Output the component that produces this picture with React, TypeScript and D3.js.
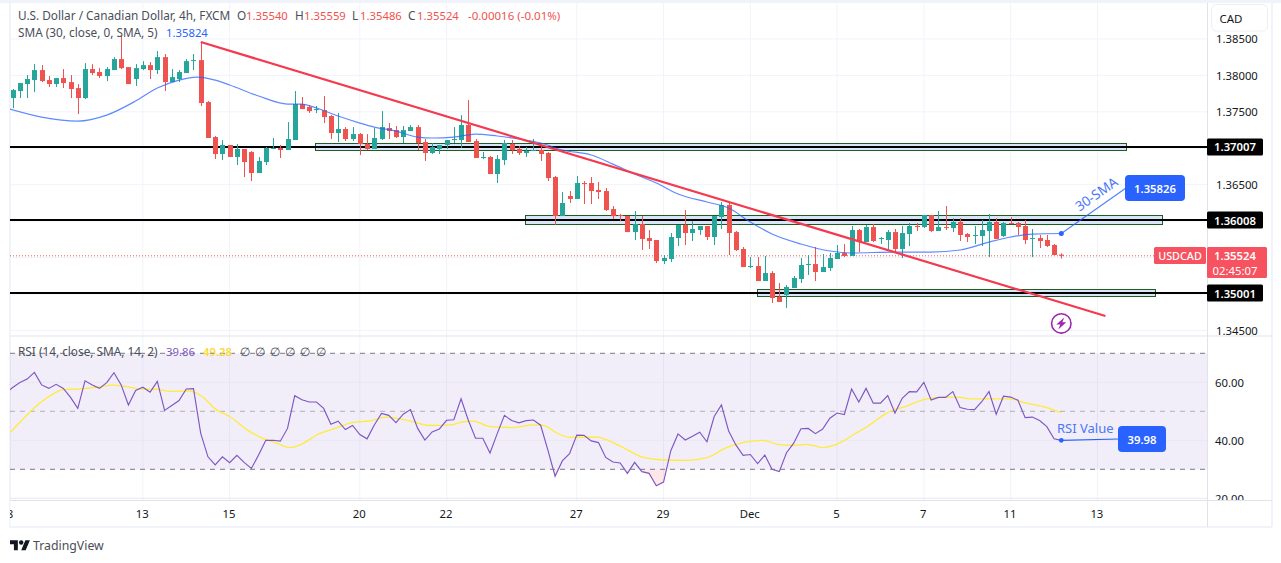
import React from "react";
import * as d3 from "d3";

// candles: open, high, low, close
const candles: number[][] = [
[1.37689,1.37813,1.37551,1.37799],[1.37785,1.37895,1.37689,1.37895],[1.37881,1.38005,1.37689,1.37950],[1.37936,1.38155,1.37771,1.38073],
[1.38073,1.38141,1.37908,1.37922],[1.37936,1.37991,1.37840,1.37881],[1.37881,1.37963,1.37840,1.37963],[1.37963,1.38087,1.37826,1.37895],
[1.37908,1.38005,1.37689,1.37813],[1.37826,1.37881,1.37469,1.37689],[1.37689,1.38169,1.37675,1.38087],[1.38087,1.38155,1.38005,1.38032],
[1.38046,1.38100,1.37963,1.37991],[1.37991,1.38114,1.37922,1.38087],[1.38073,1.38251,1.38073,1.38224],[1.38224,1.38540,1.38087,1.38100],
[1.38114,1.38114,1.37881,1.37881],[1.37950,1.38155,1.37854,1.38100],[1.38087,1.38196,1.38073,1.38141],[1.38141,1.38183,1.37950,1.38073],
[1.38073,1.38334,1.38018,1.38251],[1.38251,1.38293,1.37785,1.37908],[1.37908,1.38087,1.37908,1.37977],[1.37950,1.38073,1.37908,1.38046],
[1.38032,1.38224,1.38032,1.38196],[1.38196,1.38293,1.38073,1.38210],[1.38210,1.38458,1.37579,1.37621],[1.37634,1.37648,1.37141,1.37141],
[1.37154,1.37168,1.36852,1.36921],[1.36921,1.37113,1.36838,1.37045],[1.37045,1.37045,1.36880,1.36880],[1.36880,1.37058,1.36770,1.36990],
[1.36990,1.36990,1.36605,1.36811],[1.36948,1.36962,1.36550,1.36660],[1.36660,1.36880,1.36660,1.36825],[1.36811,1.37017,1.36770,1.37004],
[1.36990,1.37141,1.36990,1.37004],[1.37004,1.37045,1.36866,1.36976],[1.36976,1.37360,1.36976,1.37127],[1.37113,1.37785,1.37113,1.37607],
[1.37607,1.37703,1.37538,1.37538],[1.37566,1.37593,1.37483,1.37510],[1.37524,1.37580,1.37483,1.37539],[1.37524,1.37717,1.37346,1.37428],
[1.37442,1.37455,1.37127,1.37209],[1.37209,1.37483,1.37085,1.37264],[1.37264,1.37291,1.37099,1.37127],[1.37127,1.37291,1.37099,1.37195],
[1.37195,1.37209,1.36907,1.37058],[1.37058,1.37195,1.36976,1.36990],[1.36990,1.37278,1.36990,1.37141],[1.37127,1.37510,1.37113,1.37291],
[1.37278,1.37346,1.37127,1.37236],[1.37250,1.37305,1.37141,1.37154],[1.37154,1.37305,1.37072,1.37250],[1.37236,1.37319,1.37236,1.37291],
[1.37291,1.37319,1.36976,1.37072],[1.37085,1.37127,1.36825,1.36935],[1.36935,1.37072,1.36921,1.37017],[1.36990,1.37045,1.36921,1.37045],
[1.37045,1.37113,1.36990,1.37113],[1.37113,1.37291,1.37072,1.37127],[1.37113,1.37455,1.37004,1.37319],[1.37319,1.37662,1.37085,1.37085],
[1.37099,1.37127,1.36866,1.36866],[1.36866,1.36948,1.36852,1.36880],[1.36880,1.36893,1.36646,1.36646],[1.36646,1.36907,1.36523,1.36852],
[1.36838,1.37113,1.36770,1.37072],[1.37058,1.37113,1.36921,1.36976],[1.36990,1.37031,1.36907,1.36935],[1.36935,1.37017,1.36880,1.36962],
[1.36962,1.37127,1.36962,1.36976],[1.36976,1.37045,1.36825,1.36921],[1.36935,1.36948,1.36550,1.36591],[1.36605,1.36619,1.35947,1.36070],
[1.36070,1.36400,1.36070,1.36249],[1.36345,1.36413,1.36249,1.36304],[1.36304,1.36619,1.36304,1.36523],[1.36523,1.36550,1.36235,1.36510],
[1.36523,1.36605,1.36235,1.36413],[1.36427,1.36537,1.36304,1.36400],[1.36413,1.36454,1.36138,1.36152],[1.36166,1.36207,1.36029,1.36070],
[1.36084,1.36097,1.36001,1.36075],[1.36070,1.36070,1.35850,1.35850],[1.35850,1.36138,1.35741,1.35960],[1.35960,1.36070,1.35604,1.35755],
[1.35768,1.35878,1.35618,1.35727],[1.35741,1.35741,1.35425,1.35452],[1.35452,1.35535,1.35411,1.35494],[1.35480,1.35837,1.35439,1.35782],
[1.35768,1.35946,1.35659,1.35946],[1.35946,1.36152,1.35672,1.35837],[1.35837,1.36001,1.35727,1.35892],[1.35878,1.35933,1.35810,1.35933],
[1.35933,1.35933,1.35741,1.35782],[1.35782,1.36070,1.35672,1.36070],[1.36056,1.36262,1.35892,1.36221],[1.36221,1.36262,1.35535,1.35837],
[1.35850,1.35864,1.35590,1.35604],[1.35618,1.35645,1.35370,1.35370],[1.35370,1.35507,1.35356,1.35384],[1.35384,1.35507,1.35178,1.35178],
[1.35178,1.35521,1.35178,1.35288],[1.35288,1.35315,1.34877,1.34945],[1.34959,1.35151,1.34890,1.34890],[1.34986,1.35124,1.34808,1.35096],
[1.35082,1.35247,1.35082,1.35219],[1.35206,1.35494,1.35151,1.35398],[1.35398,1.35535,1.35261,1.35411],[1.35411,1.35645,1.35178,1.35302],
[1.35302,1.35549,1.35302,1.35370],[1.35356,1.35563,1.35315,1.35494],[1.35480,1.35672,1.35480,1.35563],[1.35563,1.35686,1.35507,1.35521],
[1.35521,1.35933,1.35521,1.35878],[1.35878,1.35892,1.35576,1.35713],[1.35713,1.35946,1.35713,1.35919],[1.35919,1.35960,1.35713,1.35727],
[1.35755,1.35782,1.35686,1.35768],[1.35741,1.35878,1.35604,1.35850],[1.35850,1.35892,1.35563,1.35618],[1.35618,1.35933,1.35494,1.35837],
[1.35823,1.35974,1.35659,1.35933],[1.35933,1.35974,1.35864,1.35919],[1.35919,1.36084,1.35906,1.36084],[1.36084,1.36084,1.35850,1.35864],
[1.35864,1.36138,1.35864,1.35919],[1.35919,1.36207,1.35878,1.35906],[1.35906,1.36042,1.35850,1.35988],[1.35988,1.36042,1.35727,1.35810],
[1.35823,1.35837,1.35713,1.35782],[1.35796,1.35933,1.35686,1.35810],[1.35796,1.36015,1.35659,1.35878],[1.35864,1.36097,1.35507,1.35988],
[1.35988,1.36042,1.35755,1.35755],[1.35796,1.35988,1.35782,1.35974],[1.35974,1.36056,1.35960,1.35960],[1.35974,1.35988,1.35810,1.35919],
[1.35933,1.36015,1.35686,1.35741],[1.35755,1.35892,1.35507,1.35768],[1.35768,1.35810,1.35631,1.35727],[1.35741,1.35810,1.35645,1.35659],
[1.35672,1.35686,1.35535,1.35535],[1.35540,1.35559,1.35486,1.35524],
];

const smaBars = [-0.4,4,9,13,17,20,23,25.5,28,30,34,38,40,42,45,48,50,53,56,58,61,64,67,70,73,76,80,83,86,89,92,96,99,102,105,109,113,116,122,127,131,135,138,141,145];
const smaPrices = [1.37538,1.37428,1.37373,1.37455,1.37648,1.37826,1.37936,1.37977,1.37936,1.37868,1.37717,1.37607,1.37607,1.37552,1.37442,1.37346,1.37291,1.37236,1.37154,1.37141,1.37154,1.37195,1.37168,1.37127,1.37072,1.36976,1.36907,1.36783,1.36646,1.36523,1.36372,1.36262,1.36180,1.35988,1.35823,1.35686,1.35590,1.35563,1.35576,1.35576,1.35604,1.35713,1.35782,1.35823,1.35830];

const rsiValues = [58.2,59.9,61.1,63.4,59.1,57.9,59.3,57.9,54.8,51.0,60.5,59.1,57.9,59.9,63.3,59.1,52.2,57.2,58.3,56.6,60.3,50.3,52.0,53.7,57.7,57.8,42.4,34.3,31.5,34.3,32.3,34.8,32.4,30.3,34.9,40.0,40.0,39.7,44.1,55.4,54.0,53.2,53.2,51.0,45.5,46.6,43.7,45.1,42.0,40.5,45.3,49.3,48.6,46.1,49.0,50.6,44.1,40.1,42.9,43.9,46.9,47.1,54.3,46.9,40.7,40.7,35.6,42.3,48.6,46.8,46.0,46.8,47.0,45.2,36.7,27.6,32.9,35.4,41.8,41.7,39.8,39.2,34.1,32.5,32.2,28.6,32.4,29.2,28.6,24.3,25.6,36.4,42.2,40.1,41.4,42.8,39.5,48.2,52.2,43.2,38.4,34.8,35.1,32.0,34.9,30.0,29.2,35.7,39.0,44.0,44.1,42.3,43.9,47.6,49.4,48.9,57.7,53.2,57.9,52.8,52.8,55.4,49.4,54.5,56.8,56.7,60.0,53.9,54.8,54.8,56.8,51.3,50.7,50.6,53.3,56.8,49.0,55.2,54.9,53.8,47.8,48.0,46.8,44.7,40.5,39.98];
const rsiLeadBar = -0.4;
const rsiLeadValue = 57.4;

const rsiMaBars = [-0.3,1,2.9,5.2,7,9.3,11.6,13.9,15.8,17.6,19.9,21.8,24.5,25.9,28.2,30,32.4,34.2,36.5,38.3,39.7,42.5,44.3,47.1,49.4,51.7,54.9,57.7,60.5,62.3,63.7,66,69.2,72,73.4,75.2,77,80.7,84,87.2,90,93.2,96,98.7,103.8,105.6,107.9,109.8,112,113.9,117.1,118.1,120.8,123.6,126.4,129.1,131,132.3,137.9,140.2,143,145];
const rsiMaValues = [42.8,46.2,51.0,55.4,57.5,57.7,58.3,59.0,58.5,57.7,57.6,56.9,57.0,55.6,50.5,48.2,43.6,41.1,39.0,37.5,38.4,42.4,43.9,46.2,46.7,48.0,46.7,45.1,45.3,46.4,46.6,44.7,44.4,45.3,45.1,42.6,41.0,41.1,38.0,34.1,33.2,33.1,34.0,37.5,40.0,38.7,38.2,38.6,37.5,38.6,43.2,44.6,49.3,51.8,54.3,54.9,54.8,54.3,54.3,52.8,51.3,49.5];

const priceTicks = [1.385, 1.38, 1.375, 1.37, 1.365, 1.36, 1.355, 1.35, 1.345];
const priceLabels = ["1.38500", "1.38000", "1.37500", "1.36500", "1.34500"];
const rsiTicks = [60, 40, 20];
const dateBars = [-0.3, 18, 30, 48, 60, 78, 90, 102, 114, 126, 138, 150];
const dateLabels = ["8", "13", "15", "20", "22", "27", "29", "Dec", "5", "7", "11", "13"];
const levelPrices = [1.37018, 1.36015, 1.35013];
const levelLabels = ["1.37007", "1.36008", "1.35001"];
const boxBars = [[41.9, 154], [70.9, 159], [103, 158]];
const boxPrices = [[1.37060, 1.36970], [1.36080, 1.35950], [1.35060, 1.34960]];
const trendBars = [26, 151.1];
const trendPrices = [1.38458, 1.34698];

const GREEN = "#26a69a", RED = "#ef5350", BLUE = "#2962ff", FONT = "'Noto Sans', sans-serif";
const LEFT = 10, AXIS = 1207;
const NUM = 11.3, TXT = 11.8;

export default function App() {
  const x = d3.scaleLinear().domain([0, 145]).range([12.7, 1061.3]);
  const y = d3.scaleLinear().domain([1.345, 1.385]).range([330.44, 38.96]);
  const r = d3.scaleLinear().domain([20, 70]).range([498.3, 353.3]);
  const snap = (v: number) => Math.floor(v) + 0.5;

  const smaLine = d3.line<number>().x((_, i) => x(smaBars[i])).y((v) => y(v)).curve(d3.curveMonotoneX)(smaPrices) as string;
  const rsiBars = [rsiLeadBar, ...rsiValues.map((_, i) => i)];
  const rsiSeries = [rsiLeadValue, ...rsiValues];
  const rsiLine = d3.line<number>().x((_, i) => x(rsiBars[i])).y((v) => r(v))(rsiSeries) as string;
  const maLine = d3.line<number>().x((_, i) => x(rsiMaBars[i])).y((v) => r(v)).curve(d3.curveMonotoneX)(rsiMaValues) as string;
  const osArea = d3.area<number>().x((_, i) => x(i)).y0(r(30)).y1((v) => r(v))(rsiValues) as string;

  const lastX = x(145);
  const smaEnd = y(smaPrices[smaPrices.length - 1]);
  const rsiEnd = r(rsiValues[145]);
  const lastY = y(candles[145][3]);

  return (
    <svg width={1281} height={563} viewBox="0 0 1281 563" style={{ position: "absolute", left: 0, top: 0, display: "block", background: "#fff" }} fontFamily={FONT}>
      <defs>
        <clipPath id="plot"><rect x={LEFT} y={3} width={AXIS - LEFT} height={333} /></clipPath>
        <clipPath id="rsiPane"><rect x={LEFT} y={337} width={AXIS - LEFT} height={163} /></clipPath>
        <clipPath id="oversold"><rect x={LEFT} y={r(30)} width={AXIS - LEFT} height={60} /></clipPath>
        <clipPath id="timeAxis"><rect x={LEFT} y={501} width={AXIS - LEFT} height={26} /></clipPath>
        <clipPath id="rsiAxis"><rect x={AXIS} y={337} width={60} height={163} /></clipPath>
      </defs>

      {/* frame */}
      <rect x={0} y={0} width={1281} height={3} fill="#f0f3fa" />
      <rect x={9} y={3} width={1.5} height={524} fill="#f0f3fa" />
      <rect x={9} y={526} width={1263} height={2} fill="#f0f3fa" />
      <rect x={1271} y={3} width={2} height={524} fill="#f0f3fa" />

      {/* grid */}
      {priceTicks.map((t) => <line key={t} x1={LEFT} x2={AXIS} y1={y(t)} y2={y(t)} stroke="#f0f3fa" />)}
      {dateBars.map((b) => <line key={b} x1={x(b)} x2={x(b)} y1={3} y2={500} stroke="#f0f3fa" />)}

      {/* price pane */}
      <g clipPath="url(#plot)">
        {boxBars.map((b, i) => {
          const t = snap(y(boxPrices[i][0])), u = snap(y(boxPrices[i][1]));
          return <rect key={i} x={snap(x(b[0]))} width={Math.round(x(b[1]) - x(b[0]))} y={t} height={u - t} fill="#d8e6f8" stroke="#1b5e20" strokeWidth={1} />;
        })}
        {levelPrices.map((p) => <line key={p} x1={LEFT} x2={AXIS} y1={Math.round(y(p))} y2={Math.round(y(p))} stroke="#000" strokeWidth={2} />)}
        <line x1={LEFT} x2={AXIS} y1={lastY} y2={lastY} stroke={RED} strokeWidth={1} strokeDasharray="1 2" />
        {candles.map(([o, h, l, c], i) => {
          const col = c >= o ? GREEN : RED;
          const top = y(Math.max(o, c)), bot = y(Math.min(o, c));
          return (
            <g key={i}>
              <line x1={Math.round(x(i)) + 0.5} x2={Math.round(x(i)) + 0.5} y1={y(h)} y2={y(l)} stroke={col} strokeWidth={1} />
              <rect x={Math.round(x(i)) - 2} width={5} y={top} height={Math.max(bot - top, 1)} fill={col} />
            </g>
          );
        })}
        <path d={smaLine} fill="none" stroke={BLUE} strokeOpacity={0.75} strokeWidth={1.2} />
        <line x1={x(trendBars[0])} y1={y(trendPrices[0])} x2={x(trendBars[1])} y2={y(trendPrices[1])} stroke="#f5394e" strokeWidth={2.2} />
      </g>

      {/* annotation 30-SMA */}
      <line x1={lastX} y1={smaEnd} x2={1126} y2={188} stroke={BLUE} strokeOpacity={0.8} strokeWidth={1.2} />
      <circle cx={lastX} cy={smaEnd} r={2.5} fill={BLUE} />
      <text transform="translate(1097,195) rotate(-35)" textAnchor="middle" dominantBaseline="middle" fontSize={13.5} fill="#4a78f5">30-SMA</text>
      <rect x={1125} y={175} width={60} height={26} rx={4} fill={BLUE} />
      <text x={1155} y={188} textAnchor="middle" dominantBaseline="central" fontSize={NUM} fontWeight={600} fill="#fff">1.35826</text>

      {/* lightning marker */}
      <g transform={`translate(${lastX},323.4)`}>
        <circle r={9.7} fill="#fff" stroke="#9c27b0" strokeWidth={1.6} />
        <path d="M3,-6 L-5,1.2 L-1,1.2 L-3,6 L5,-1.2 L1,-1.2 Z" fill="#9c27b0" />
      </g>

      {/* RSI pane */}
      <line x1={LEFT} x2={1272} y1={336} y2={336} stroke="#e0e3eb" />
      <rect x={LEFT} y={r(70)} width={AXIS - LEFT} height={r(30) - r(70)} fill="#7e57c2" fillOpacity={0.1} />
      {rsiTicks.map((t) => <line key={t} x1={LEFT} x2={AXIS} y1={r(t)} y2={r(t)} stroke="#e9e6f2" />)}
      <line x1={LEFT} x2={AXIS} y1={r(70)} y2={r(70)} stroke="#787b86" strokeDasharray="5 5" />
      <line x1={LEFT} x2={AXIS} y1={r(50)} y2={r(50)} stroke="#787b86" strokeOpacity={0.55} strokeDasharray="5 5" />
      <line x1={LEFT} x2={AXIS} y1={r(30)} y2={r(30)} stroke="#787b86" strokeDasharray="5 5" />
      <g clipPath="url(#rsiPane)">
        <path d={osArea} fill="#f23645" fillOpacity={0.12} clipPath="url(#oversold)" />
        <path d={maLine} fill="none" stroke="#ffeb3b" strokeWidth={1.3} />
        <path d={rsiLine} fill="none" stroke="#7e57c2" strokeWidth={1.15} />
      </g>
      <line x1={lastX} y1={rsiEnd} x2={1119} y2={439} stroke={BLUE} strokeWidth={1.2} />
      <circle cx={lastX} cy={rsiEnd} r={2.4} fill={BLUE} />
      <text x={1057} y={433} fontSize={13} fill="#4a78f5">RSI Value</text>
      <rect x={1118} y={426} width={48} height={26} rx={4} fill={BLUE} />
      <text x={1142} y={439} textAnchor="middle" dominantBaseline="central" fontSize={NUM} fontWeight={600} fill="#fff">39.98</text>

      {/* axes */}
      <line x1={LEFT} x2={1272} y1={500.5} y2={500.5} stroke="#e0e3eb" />
      <line x1={AXIS + 0.5} x2={AXIS + 0.5} y1={3} y2={527} stroke="#e0e3eb" />
      {priceLabels.map((l) => (
        <text key={l} x={1216} y={y(+l)} dominantBaseline="central" fontSize={NUM} fill="#131722">{l}</text>
      ))}
      <g clipPath="url(#rsiAxis)">
        {rsiTicks.map((t) => (
          <text key={t} x={1215} y={r(t)} dominantBaseline="central" fontSize={NUM} fill="#131722">{t.toFixed(2)}</text>
        ))}
      </g>
      <g clipPath="url(#timeAxis)">
        {dateBars.map((b, i) => (
          <text key={b} x={x(b) - 0.6} y={518} textAnchor="middle" fontSize={NUM} fill="#131722">{dateLabels[i]}</text>
        ))}
      </g>
      {levelPrices.map((p, i) => (
        <g key={p}>
          <rect x={AXIS} y={y(p) - 8.5} width={56} height={17} rx={1.5} fill="#000" />
          <text x={1235} y={y(p)} textAnchor="middle" dominantBaseline="central" fontSize={NUM} fontWeight={600} fill="#fff">{levelLabels[i]}</text>
        </g>
      ))}
      <rect x={1154} y={247} width={52} height={17} rx={1.5} fill="#f7525f" />
      <text x={1180} y={255.5} textAnchor="middle" dominantBaseline="central" fontSize={10.8} fontWeight={500} fill="#fff">USDCAD</text>
      <rect x={AXIS} y={247} width={60} height={31} rx={1.5} fill="#f7525f" />
      <text x={1235} y={255} textAnchor="middle" dominantBaseline="central" fontSize={NUM} fontWeight={600} fill="#fff">1.35524</text>
      <text x={1235} y={270} textAnchor="middle" dominantBaseline="central" fontSize={NUM} fill="#fff">02:45:07</text>

      {/* currency button */}
      <rect x={1211.5} y={4.5} width={56} height={26.5} rx={5} fill="#fff" stroke="#eceef2" />
      <text x={1231} y={18.5} textAnchor="middle" dominantBaseline="central" fontSize={11.5} fill="#131722">CAD</text>

      {/* legends */}
      <g fontSize={TXT} fill="#4a4e5a">
        <text x={18} y={20}>U.S. Dollar / Canadian Dollar, 4h, FXCM</text>
        <text x={237} y={20}>O</text>
        <text x={246} y={20} fontSize={NUM} fill={RED}>1.35540</text>
        <text x={295} y={20}>H</text>
        <text x={304} y={20} fontSize={NUM} fill={RED}>1.35559</text>
        <text x={352} y={20}>L</text>
        <text x={360} y={20} fontSize={NUM} fill={RED}>1.35486</text>
        <text x={408} y={20}>C</text>
        <text x={417} y={20} fontSize={NUM} fill={RED}>1.35524</text>
        <text x={468} y={20} fontSize={11.5} fill={RED}>-0.00016 (-0.01%)</text>
        <text x={18} y={37}>SMA (30, close, 0, SMA, 5)</text>
        <text x={166} y={37} fontSize={NUM} fill={BLUE}>1.35824</text>
        <text x={18} y={356}>RSI (14, close, SMA, 14, 2)</text>
        <text x={166} y={356} fontSize={NUM} fill="#7e57c2">39.86</text>
        <text x={203} y={356} fontSize={NUM} fontWeight={600} fill="#fdd835">49.28</text>
        {[240, 255, 270, 285, 300, 316].map((p) => <text key={p} x={p} y={356}>∅</text>)}
      </g>

      {/* TradingView logo */}
      <g transform="translate(10,538) scale(0.56)" fill="#131722">
        <path d="M14 22H7V11H0V4h14v18zM28 22h-8l7.5-18h8L28 22z" />
        <circle cx={20} cy={8} r={4} />
      </g>
      <text x={33} y={550} fontSize={12.3} fill="#4a4e5a">TradingView</text>
    </svg>
  );
}
